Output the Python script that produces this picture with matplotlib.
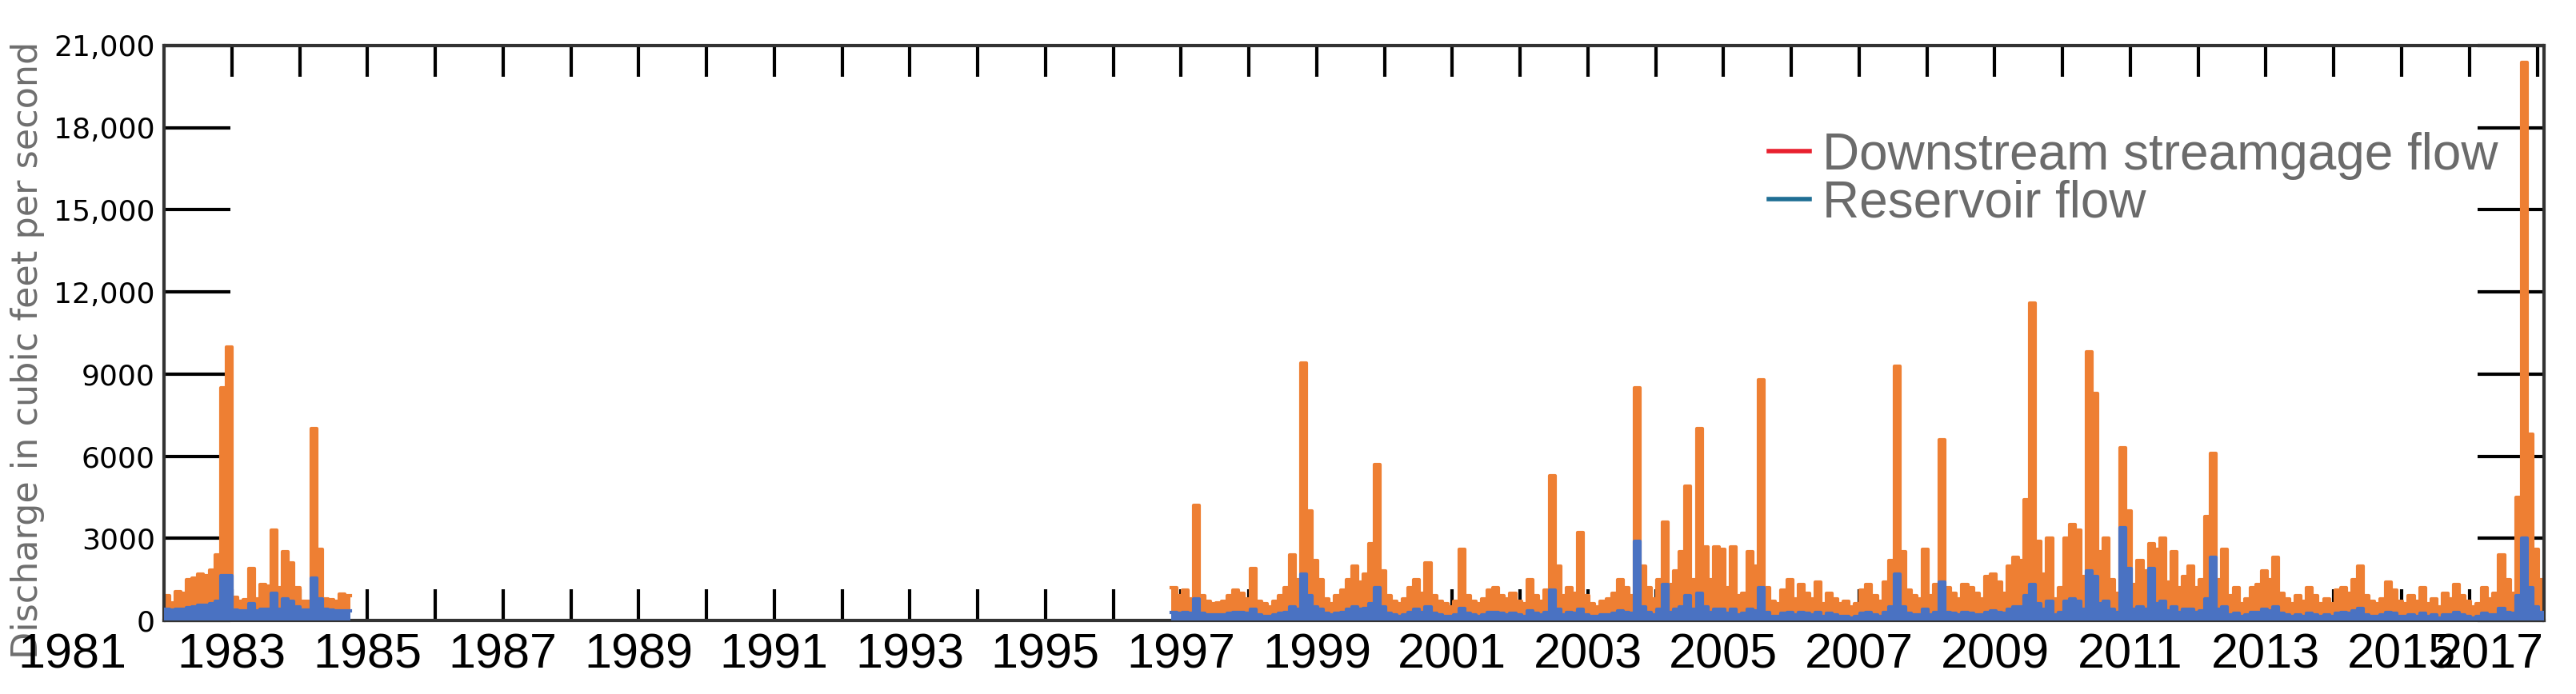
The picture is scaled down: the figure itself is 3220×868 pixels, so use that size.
import numpy as np
import matplotlib.pyplot as plt
import matplotlib.transforms as mtransforms

# x positions are in "year index" units: 0 = left edge of axis (labelled 1982 tick)
early_start = 0.0
early_down = [900, 650, 1050, 1000, 1500, 1550, 1700, 1650, 1850, 2400, 8500, 10000,
              850, 700, 750, 1900, 800, 1300, 1250, 3300, 1200, 2500, 2100, 1200,
              700, 700, 7000, 2600, 800, 750, 700, 950, 900]
early_res = [400, 380, 400, 420, 480, 500, 550, 560, 600, 700, 1650, 1650,
             380, 350, 340, 600, 350, 400, 420, 1000, 420, 780, 700, 500,
             380, 380, 1550, 800, 400, 380, 360, 360, 350]

late_start = 14.85
late_down = [
    1200, 900, 1100, 800, 4200, 900, 700, 600, 650, 700, 900, 1100,
    1000, 800, 1900, 700, 600, 500, 700, 900, 1200, 2400, 1500, 9400,
    4000, 2200, 1500, 800, 600, 900, 1100, 1500, 2000, 1400, 1700, 2800,
    5700, 1800, 900, 700, 600, 800, 1200, 1500, 1000, 2100, 900, 700,
    600, 500, 700, 2600, 900, 700, 600, 800, 1100, 1200, 900, 800,
    1000, 700, 600, 1500, 900, 700, 1100, 5300, 2000, 900, 1200, 1000,
    3200, 900, 600, 500, 700, 800, 1000, 1500, 1200, 900, 8500, 2000,
    1200, 800, 1500, 3600, 1300, 1800, 2500, 4900, 1500, 7000, 2700, 1500,
    2700, 2600, 1200, 2700, 900, 1000, 2500, 2000, 8800, 1200, 700, 600,
    1100, 1500, 800, 1300, 1000, 800, 1400, 600, 1000, 800, 600, 700,
    500, 600, 1100, 1300, 900, 700, 1400, 2200, 9300, 2500, 1100, 900,
    800, 2600, 900, 1300, 6600, 1200, 1000, 800, 1300, 1200, 1000, 800,
    1600, 1700, 1400, 1000, 2000, 2300, 2200, 4400, 11600, 2900, 1700, 3000,
    800, 1200, 3000, 3500, 3300, 1600, 9800, 8300, 2500, 3000, 1500, 1000,
    6300, 4000, 1300, 2200, 1800, 2800, 2600, 3000, 1400, 2500, 1200, 1600,
    2000, 1200, 1500, 3800, 6100, 1500, 2600, 900, 1200, 600, 800, 1200,
    1300, 1800, 1500, 2300, 1000, 800, 600, 900, 700, 1200, 900, 600,
    800, 600, 1100, 1200, 1000, 1500, 2000, 900, 700, 600, 800, 1400,
    1100, 700, 600, 900, 700, 1200, 600, 800, 500, 1000, 800, 1300,
    900, 700, 500, 600, 1200, 800, 1000, 2400, 1500, 1000, 4500, 20400,
    6800, 2600, 1500,
]
late_res = [
    300, 250, 300, 250, 800, 250, 200, 200, 200, 200, 250, 300,
    300, 250, 400, 200, 150, 150, 200, 250, 300, 500, 400, 1700,
    900, 500, 400, 250, 200, 250, 300, 400, 500, 400, 450, 600,
    1200, 500, 250, 200, 150, 200, 300, 400, 300, 500, 250, 200,
    150, 150, 200, 450, 250, 200, 150, 200, 300, 300, 250, 200,
    250, 200, 150, 350, 250, 200, 300, 1100, 400, 200, 300, 250,
    400, 200, 150, 150, 200, 200, 250, 350, 300, 250, 2900, 500,
    300, 200, 400, 1300, 300, 400, 500, 900, 400, 1000, 500, 300,
    400, 400, 250, 400, 200, 250, 400, 350, 1200, 300, 150, 150,
    250, 300, 200, 300, 250, 200, 300, 150, 250, 200, 150, 150,
    100, 150, 250, 300, 200, 150, 300, 500, 1700, 500, 250, 200,
    200, 400, 200, 300, 1400, 300, 250, 200, 300, 250, 200, 200,
    300, 350, 300, 250, 400, 500, 500, 900, 1300, 600, 400, 700,
    200, 300, 700, 800, 700, 400, 1800, 1600, 600, 700, 400, 300,
    3400, 1900, 400, 500, 400, 1900, 600, 700, 350, 500, 300, 400,
    400, 300, 350, 800, 2300, 400, 500, 200, 250, 150, 200, 300,
    300, 400, 350, 500, 250, 200, 150, 200, 150, 250, 200, 150,
    200, 150, 250, 300, 250, 350, 450, 200, 150, 150, 200, 300,
    250, 150, 150, 200, 150, 250, 150, 200, 100, 200, 200, 300,
    200, 150, 100, 150, 250, 200, 200, 450, 300, 250, 900, 3000,
    1200, 500, 300,
]

year_labels = list(range(1981, 2018, 2))
label_pos = [y - 1982 for y in year_labels]
y_ticks = [0, 3000, 6000, 9000, 12000, 15000, 18000, 21000]
y_labels = ["0", "3000", "6000", "9000", "12,000", "15,000", "18,000", "21,000"]

ORANGE = "#EE7F33"
BLUE = "#4A72C2"

fig = plt.figure(figsize=(32.2, 8.68), dpi=100)
ax = fig.add_axes([205/3220, 92/868, (3180-205)/3220, (777-58)/868])

def draw(start, vals, color, z):
    x = start + np.arange(len(vals) + 1) / 12.0
    v = np.array(vals + [vals[-1]])
    ax.fill_between(x, 0, v, step='post', color=color, lw=0, zorder=z)
    ax.step(x, v, where='post', color=color, lw=3, zorder=z)

draw(early_start, early_down, ORANGE, 2)
draw(late_start, late_down, ORANGE, 2)
draw(early_start, early_res, BLUE, 3)
draw(late_start, late_res, BLUE, 3)

ax.set_xlim(0, 35.1)
ax.set_ylim(0, 21000)
for s in ax.spines.values():
    s.set_linewidth(3)
    s.set_color("#333333")

ax.set_yticks(y_ticks)
ax.set_yticklabels(y_labels, fontsize=26)
ax.tick_params(axis='y', direction='in', length=60, width=3, right=True, pad=8)
ax.set_xticks(np.arange(1, 36))
ax.set_xticklabels([])
ax.tick_params(axis='x', direction='in', length=28, width=3, top=True)

trans = mtransforms.blended_transform_factory(ax.transData, ax.transAxes)
for p, lab in zip(label_pos, year_labels):
    xp = p
    if lab == 1981:
        xp = -1.35
    elif lab == 2017:
        xp = 34.3
    ax.text(xp, -0.022, str(lab), transform=trans, family="Liberation Sans",
            ha='center', va='top', fontsize=44, clip_on=False)

ax.set_ylabel("Discharge in cubic feet per second", fontsize=32, color="#6e6e6e")
ax.yaxis.set_label_coords(-0.05, 0.47)

ax.plot([], [], color="#E8202E", lw=4, label="Downstream streamgage flow")
ax.plot([], [], color="#1F6E94", lw=4, label="Reservoir flow")
leg = ax.legend(loc='upper left', bbox_to_anchor=(0.655, 0.93), frameon=False,
                prop={'family': 'Liberation Sans', 'size': 46},
                handlelength=0.8, handletextpad=0.25, labelspacing=0.0)
for t in leg.get_texts():
    t.set_color("#6b6b6b")

fig.savefig("out.png", dpi=100)
